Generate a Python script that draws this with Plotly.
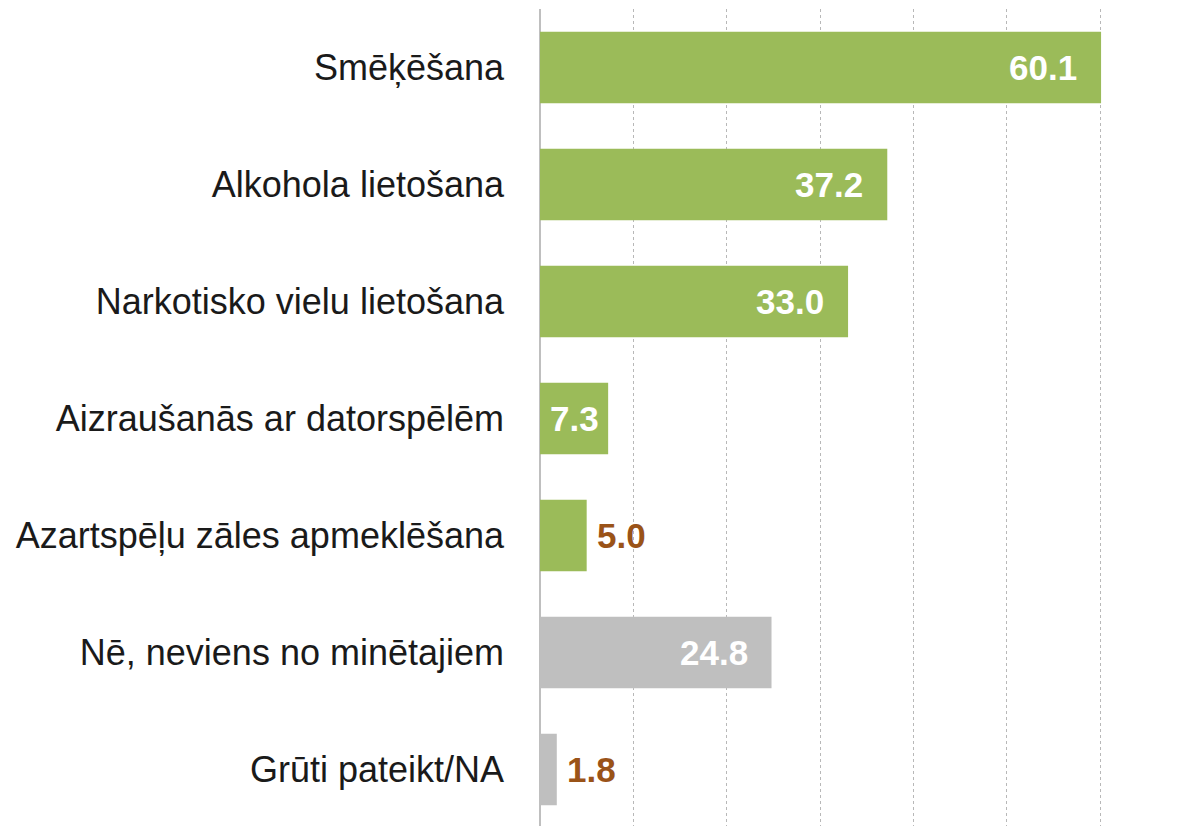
import plotly.graph_objects as go

categories = [
    "Smēķēšana",
    "Alkohola lietošana",
    "Narkotisko vielu lietošana",
    "Aizraušanās ar datorspēlēm",
    "Azartspēļu zāles apmeklēšana",
    "Nē, neviens no minētajiem",
    "Grūti pateikt/NA",
]
values = [60.1, 37.2, 33.0, 7.3, 5.0, 24.8, 1.8]
groups = ["g", "g", "g", "g", "g", "n", "n"]
label_mode = ["inside", "inside", "inside", "center", "outside", "inside", "outside"]

GREEN = "#9BBB59"
GRAY = "#BFBFBF"
BROWN = "#9A5318"
FONT = "Liberation Sans, Arial, sans-serif"

colors = [GREEN if g == "g" else GRAY for g in groups]

fig = go.Figure()
fig.add_trace(go.Bar(
    y=categories, x=values, orientation="h",
    marker=dict(color=colors, line=dict(width=0)),
    hoverinfo="skip",
))

annotations = []
for c, v, m in zip(categories, values, label_mode):
    txt = f"{v:.1f}"
    if m == "inside":
        annotations.append(dict(x=v, y=c, xref="x", yref="y", text=f"<b>{txt}</b>",
                                showarrow=False, xanchor="right", xshift=-22,
                                font=dict(family=FONT, size=35, color="white")))
    elif m == "center":
        annotations.append(dict(x=v / 2, y=c, xref="x", yref="y", text=f"<b>{txt}</b>",
                                showarrow=False, xanchor="center",
                                font=dict(family=FONT, size=35, color="white")))
    else:
        annotations.append(dict(x=v, y=c, xref="x", yref="y", text=f"<b>{txt}</b>",
                                showarrow=False, xanchor="left", xshift=8,
                                font=dict(family=FONT, size=35, color=BROWN)))

fig.update_layout(
    width=1178, height=826,
    margin=dict(l=532, r=84, t=1, b=6, autoexpand=False),
    plot_bgcolor="white", paper_bgcolor="white",
    bargap=0.39,
    showlegend=False,
    annotations=annotations,
    font=dict(family=FONT, size=36, color="#1a1a1a"),
    xaxis=dict(range=[0, 60.2], dtick=10, showgrid=True, gridcolor="#B8B8B8",
               griddash="dot", gridwidth=1, showticklabels=False, ticks="",
               zeroline=True, zerolinecolor="#BFBFBF", zerolinewidth=2,
               showline=False, fixedrange=True, automargin=False),
    yaxis=dict(autorange="reversed", showgrid=False, ticks="",
               ticklabelstandoff=35, showline=False, automargin=False,
               tickfont=dict(family=FONT, size=36, color="#1a1a1a")),
)

fig.write_html("out.html")
